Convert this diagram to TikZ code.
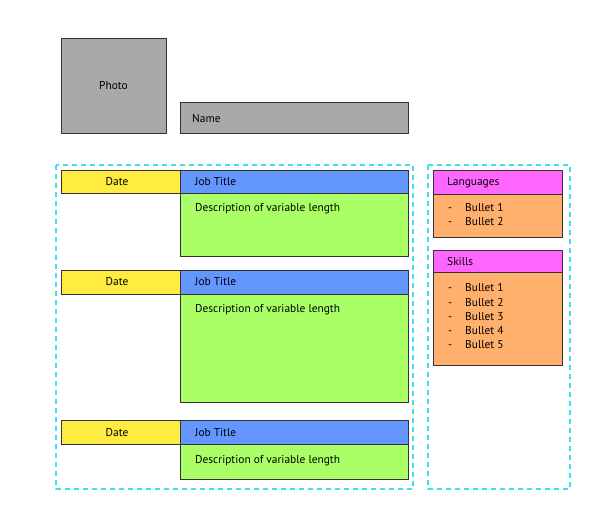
\documentclass[tikz,border=0pt]{standalone}
\usepackage{fontspec}
\setmainfont{PT Sans}
\definecolor{cgray}{RGB}{169,169,169}
\definecolor{cyellow}{RGB}{255,236,64}
\definecolor{cblue}{RGB}{100,150,255}
\definecolor{cgreen}{RGB}{170,255,102}
\definecolor{cmag}{RGB}{255,102,255}
\definecolor{corange}{RGB}{255,176,108}
\definecolor{ccyan}{RGB}{60,225,235}
\begin{document}
\begin{tikzpicture}[x=1pt,y=-1pt,
  box/.style={draw=black!80,line width=0.8pt},
  grp/.style={draw=ccyan,line width=1.3pt,dash pattern=on 5pt off 4pt},
  lbl/.style={font=\fontsize{11.4}{13}\selectfont,inner sep=0pt,anchor=west,text height=7.8pt,text depth=0pt},
  clbl/.style={font=\fontsize{11.4}{13}\selectfont,inner sep=0pt,text height=7.8pt,text depth=0pt}]
\useasboundingbox (0,0) rectangle (595,530);
% header
\draw[box,fill=cgray] (61,38) rectangle (166,133);
\node[clbl] (photo) at (113.5,86) {Photo};
\draw[box,fill=cgray] (180,102) rectangle (408,133);
\node[lbl] (name) at (192,118.5) {Name};
% group frames
\draw[grp] (56,165) rectangle (413,489);
\draw[grp] (428,165) rectangle (570,489);
% job 1
\draw[box,fill=cgreen] (180,193) rectangle (408,256);
\draw[box,fill=cyellow] (61,170) rectangle (180,193);
\draw[box,fill=cblue] (180,170) rectangle (408,193);
\node[clbl] (d1) at (117,182) {Date};
\node[lbl] (t1) at (195,181.5) {Job Title};
\node[lbl] (x1) at (195,208) {Description of variable length};
% job 2
\draw[box,fill=cgreen] (180,294) rectangle (408,402);
\draw[box,fill=cyellow] (61,270) rectangle (180,294);
\draw[box,fill=cblue] (180,270) rectangle (408,294);
\node[clbl] (d2) at (117,282) {Date};
\node[lbl] (t2) at (195,281.5) {Job Title};
\node[lbl] (x2) at (195,308.5) {Description of variable length};
% job 3
\draw[box,fill=cgreen] (180,444) rectangle (408,479);
\draw[box,fill=cyellow] (61,420) rectangle (180,444);
\draw[box,fill=cblue] (180,420) rectangle (408,444);
\node[clbl] (d3) at (117,432.5) {Date};
\node[lbl] (t3) at (195,432.5) {Job Title};
\node[lbl] (x3) at (195,459.5) {Description of variable length};
% languages
\draw[box,fill=corange] (433,194) rectangle (562,237);
\draw[box,fill=cmag] (433,170) rectangle (562,194);
\node[lbl] (lang) at (447,182) {Languages};
\foreach \i/\y in {1/207.5,2/222} {
  \node[lbl] (ld\i) at (448,\y) {-};
  \node[lbl] (lb\i) at (465,\y) {Bullet \i};
}
% skills
\draw[box,fill=corange] (433,272) rectangle (562,365);
\draw[box,fill=cmag] (433,250) rectangle (562,272);
\node[lbl] (skills) at (447,261.5) {Skills};
\foreach \i/\y in {1/288,2/302.2,3/316.4,4/330.6,5/344.8} {
  \node[lbl] (sd\i) at (448,\y) {-};
  \node[lbl] (sb\i) at (465,\y) {Bullet \i};
}
\end{tikzpicture}
\end{document}
